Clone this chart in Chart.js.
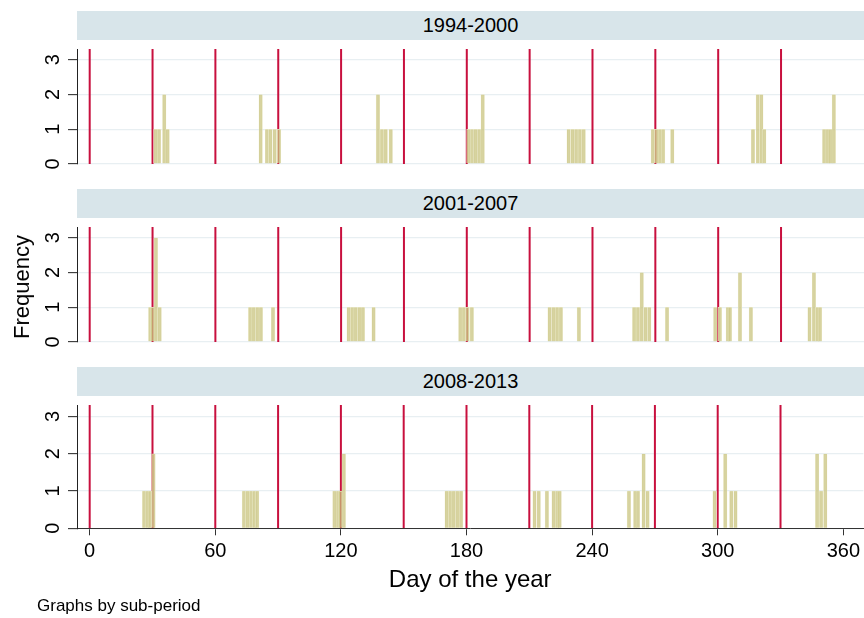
<!DOCTYPE html>
<html>
<head>
<meta charset="utf-8">
<script src="https://cdn.jsdelivr.net/npm/chart.js@4.4.1/dist/chart.umd.min.js"></script>
<style>
  body { margin: 0; background: #fff; }
  #page { position: relative; width: 864px; height: 618px; overflow: hidden; background: #fff;
          font-family: "Liberation Sans", Arial, sans-serif; color: #000; }
  .strip { position: absolute; left: 77px; width: 787px; height: 29px; background: #d8e5ea;
           text-align: center; line-height: 29px; font-size: 20px; z-index: 2; }
  canvas { position: absolute; left: 0; }
  #ytitle { position: absolute; left: 22px; top: 287px; transform: translate(-50%, -50%) rotate(-90deg);
            font-size: 22px; white-space: nowrap; }
  #note { position: absolute; left: 37px; top: 596px; font-size: 17px; }
</style>
</head>
<body>
<div id="page">
  <div class="strip" style="top:11px">1994-2000</div>
  <div class="strip" style="top:189px">2001-2007</div>
  <div class="strip" style="top:367px">2008-2013</div>
  <canvas id="c1" width="864" height="157" style="top:28px"></canvas>
  <canvas id="c2" width="864" height="157" style="top:206px"></canvas>
  <canvas id="c3" width="864" height="234" style="top:384px"></canvas>
  <div id="ytitle">Frequency</div>
  <div id="note">Graphs by sub-period</div>
</div>
<script>
// bar centres (day of year) and counts, one pair of arrays per sub-period
const days1 = [31.4, 33.1, 35.6, 37.2, 81.6, 84.6, 86.3, 88.3, 90.4, 137.6, 139.5, 141.3, 143.7,
  180.8, 182.5, 184.2, 185.9, 187.6, 228.6, 230.4, 232.2, 234.0, 235.8, 268.8, 270.5, 272.2, 273.7, 278.1,
  316.6, 318.9, 320.6, 322.0, 350.6, 352.3, 353.7, 355.2];
const counts1 = [1, 1, 2, 1, 2, 1, 1, 1, 1, 2, 1, 1, 1,
  1, 1, 1, 1, 2, 1, 1, 1, 1, 1, 1, 1, 1, 1, 1,
  1, 2, 2, 1, 1, 1, 1, 2];

const days2 = [28.9, 30.0, 31.6, 33.4, 76.6, 78.3, 80.0, 81.7, 87.5, 123.6, 125.3, 127.0, 128.7, 130.4, 135.5,
  176.9, 178.6, 180.4, 182.4, 219.5, 221.3, 223.1, 224.9, 233.5, 259.9, 261.7, 263.5, 265.3, 267.1, 275.6,
  298.6, 300.8, 304.6, 305.6, 310.4, 315.6, 343.6, 345.7, 347.4, 348.6];
const counts2 = [1, 1, 3, 1, 1, 1, 1, 1, 1, 1, 1, 1, 1, 1, 1,
  1, 1, 1, 1, 1, 1, 1, 1, 1, 1, 1, 2, 1, 1, 1,
  1, 1, 1, 1, 2, 1, 1, 2, 1, 1];

const days3 = [26.0, 27.7, 28.8, 30.5, 73.7, 75.4, 77.1, 78.8, 80.0, 116.9, 118.6, 119.8, 121.4,
  170.5, 172.2, 173.9, 175.6, 177.4, 212.5, 214.5, 218.4, 221.6, 223.3, 224.5,
  257.6, 260.6, 261.9, 264.6, 266.5, 298.5, 303.6, 306.5, 308.5, 347.5, 349.4, 351.4];
const counts3 = [1, 1, 1, 2, 1, 1, 1, 1, 1, 1, 1, 1, 2,
  1, 1, 1, 1, 1, 1, 1, 1, 1, 1, 1,
  1, 1, 1, 2, 1, 1, 2, 1, 1, 2, 1, 2];

const monthLines = [0, 30, 60, 90, 120, 150, 180, 210, 240, 270, 300, 330];
const xTicks = [0, 60, 120, 180, 240, 300, 360];
const yTicks = [0, 1, 2, 3];

const X_MIN = -6.06, X_MAX = 369.6, Y_MAX = 3.31;
Chart.defaults.font.family = 'Liberation Sans, Arial, sans-serif';
Chart.defaults.color = '#000';

function makePanel(id, days, counts, pad, bottomAxis) {
    const bars = days.map((d, i) => ({ x: d, y: counts[i] }));
    const lines = [];
    monthLines.forEach(d => {
        lines.push({ x: d, y: 0 }, { x: d, y: Y_MAX }, { x: d, y: null });
    });

    const xScale = {
        type: 'linear',
        offset: false,
        min: X_MIN,
        max: X_MAX,
        display: bottomAxis,
        afterBuildTicks: s => { s.ticks = xTicks.map(v => ({ value: v })); },
        grid: { offset: false, drawOnChartArea: false, drawTicks: true, tickLength: 7, tickColor: '#333', tickWidth: 1 },
        border: { color: '#333', width: 1 },
        ticks: { padding: 4, maxRotation: 0, font: { size: 20 }, color: '#000' },
        title: { display: true, text: 'Day of the year', font: { size: 24 }, padding: { top: 0, bottom: 23.6 } }
    };
    if (bottomAxis) xScale.afterFit = s => { s.height = 89.7; };

    new Chart(document.getElementById(id), {
        type: 'bar',
        data: {
            datasets: [{
                type: 'bar',
                data: bars,
                backgroundColor: 'rgba(200, 194, 124, 0.72)',
                borderColor: 'rgba(240, 238, 214, 0.9)',
                borderWidth: 0.5,
                barThickness: 3.6,
                order: 1
            }, {
                type: 'line',
                data: lines,
                borderColor: '#c8103e',
                borderWidth: 2,
                pointRadius: 0,
                spanGaps: false,
                order: 2
            }]
        },
        options: {
            responsive: false,
            animation: false,
            layout: { padding: { left: 0, right: 0, top: pad[0], bottom: pad[1] } },
            plugins: { legend: { display: false }, tooltip: { enabled: false } },
            scales: {
                x: xScale,
                y: {
                    min: 0,
                    max: Y_MAX,
                    afterBuildTicks: s => { s.ticks = yTicks.map(v => ({ value: v })); },
                    afterFit: s => { s.width = 77; },
                    grid: { color: '#e8eff2', lineWidth: 1.3, tickColor: '#222', tickLength: 9, tickWidth: 1 },
                    border: { color: '#222', width: 1 },
                    ticks: { minRotation: 90, maxRotation: 90, crossAlign: 'center', padding: 9,
                             font: { size: 20 }, color: '#000' }
                }
            }
        }
    });
}

makePanel('c1', days1, counts1, [12, 12.3], false);
makePanel('c2', days2, counts2, [11.8, 12.6], false);
makePanel('c3', days3, counts3, [11.6, 0], true);
</script>
</body>
</html>
